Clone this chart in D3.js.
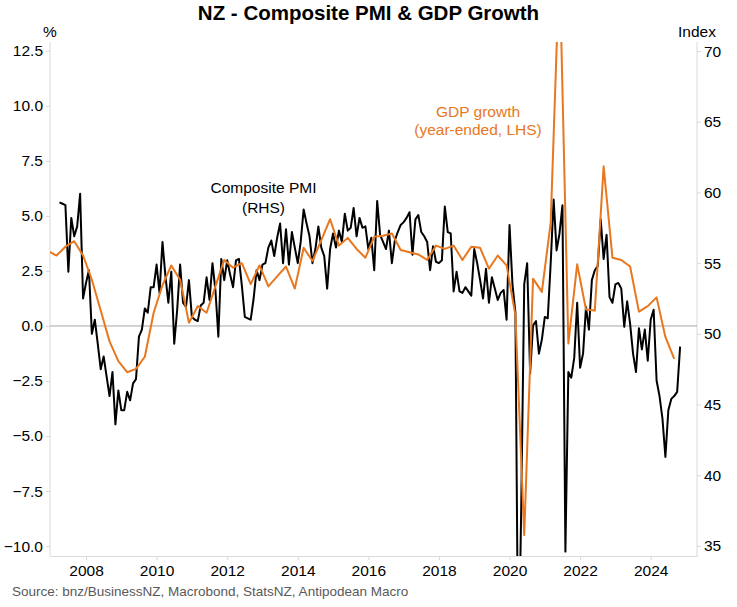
<!DOCTYPE html>
<html><head><meta charset="utf-8">
<script src="https://cdn.jsdelivr.net/npm/d3@7"></script>
<style>
body{margin:0;background:#fff;}
svg{display:block;font-family:"Liberation Sans",Arial,sans-serif;}
</style>
</head><body>
<svg id="chart" width="737" height="607"></svg>
<script>
// ---------------- DATA ----------------
const yearTicks = [2008, 2010, 2012, 2014, 2016, 2018, 2020, 2022, 2024];
const leftTicks = [-10, -7.5, -5, -2.5, 0, 2.5, 5, 7.5, 10, 12.5];
const rightTicks = [35, 40, 45, 50, 55, 60, 65, 70];

// Composite PMI (RHS), monthly, first value = Apr 2007
const pmiStartYear = 2007, pmiStartMonth = 4;
const pmiValues = [
  59.3, 59.2, 59.1, 54.4, 58.2, 56.9, 57.6, 59.9, 52.5,                   // 2007 Apr-Dec
  53.6, 54.5, 50.0, 51.0, 49.3, 47.5, 48.4, 47.0, 45.6, 47.3, 43.6, 46.0, // 2008
  44.6, 44.6, 45.9, 45.3, 46.5, 46.8, 49.8, 50.3, 51.8, 51.5, 53.3, 53.3, // 2009
  54.9, 52.9, 56.5, 54.1, 52.2, 54.4, 49.3, 51.7, 54.9, 52.2, 51.9, 53.8, // 2010
  51.2, 51.0, 50.9, 52.0, 52.2, 54.0, 52.4, 55.0, 53.1, 49.8, 55.3, 53.8, // 2011
  55.2, 54.2, 53.3, 55.2, 55.3, 53.4, 51.2, 51.1, 51.0, 52.5, 54.5, 53.8, // 2012
  54.9, 55.0, 56.1, 56.6, 55.5, 56.8, 57.8, 55.0, 57.4, 54.9, 57.2, 56.1, // 2013
  55.0, 56.5, 58.8, 57.8, 56.9, 55.0, 56.0, 57.6, 56.1, 55.5, 53.2, 56.0, // 2014
  57.1, 56.1, 57.3, 56.5, 58.5, 57.3, 57.5, 58.9, 56.9, 58.2, 57.5, 57.6, // 2015
  56.0, 56.8, 54.5, 59.4, 57.0, 56.5, 56.0, 57.3, 55.0, 56.6, 57.2, 57.7, // 2016
  57.9, 58.2, 58.6, 55.6, 58.1, 58.4, 57.2, 56.9, 56.5, 54.5, 56.2, 55.1, // 2017
  55.0, 55.2, 59.0, 57.2, 57.1, 53.0, 54.4, 53.0, 52.9, 53.3, 53.0, 52.7, // 2018
  56.0, 55.0, 53.8, 52.5, 54.6, 52.2, 54.0, 53.2, 52.4, 52.9, 53.1, 51.0, // 2019
  57.7, 53.5, 51.5, 25.0, 38.0, 53.5, 55.0, 47.2, 50.6, 50.9, 48.6, 49.6, // 2020
  51.2, 51.1, 55.0, 59.5, 55.9, 57.1, 59.1, 34.6, 47.3, 46.9, 48.3, 52.2, // 2021
  47.6, 48.6, 51.9, 50.3, 53.8, 54.5, 54.8, 58.1, 55.3, 57.0, 52.6, 52.2, // 2022
  53.5, 53.6, 53.2, 50.5, 52.3, 50.7, 48.6, 47.3, 50.4, 48.9, 50.3, 48.1, // 2023
  51.0, 51.7, 46.7, 45.6, 44.0, 41.3, 44.6, 45.4, 45.6, 45.9, 49.1        // 2024 Jan-Nov
];

// GDP growth, year-ended % (LHS), quarterly, first value = Q4 2006
const gdpStartYear = 2006, gdpStartQuarter = 4;
const gdpValues = [
  3.4,                      // 2006 Q4
  3.2, 3.6, 3.85, 3.2,      // 2007
  2.1, 0.7, -0.7, -1.6,     // 2008
  -2.1, -1.95, -1.4, 0.6,   // 2009
  1.85, 2.75, 2.1, 0.15,    // 2010
  0.9, 0.6, 1.8, 3.0,       // 2011
  2.65, 2.85, 1.9, 2.75,    // 2012
  1.8, 2.25, 2.7, 1.7,      // 2013
  3.55, 2.95, 3.9, 4.85,    // 2014
  3.65, 4.0, 3.5, 3.1,      // 2015
  4.05, 4.1, 4.2, 3.45,     // 2016
  3.35, 3.25, 3.0, 3.65,    // 2017
  3.5, 3.65, 3.0, 3.6,      // 2018
  3.55, 2.6, 3.2, 2.75,     // 2019
  0.5, -9.5, 2.15, 1.55,    // 2020
  4.7, 16.5, -0.8, 2.8,     // 2021
  0.75, 0.7, 7.25, 3.1,     // 2022
  3.0, 2.7, 0.65, 0.9,      // 2023
  1.3, -0.5, -1.5           // 2024 Q1-Q3
];

// ---------------- CHART ----------------
const svg = d3.select("#chart");
const plot = {left: 50, right: 697, top: 42, bottom: 556};

const x = d3.scaleLinear().domain([2006.98, 2025.312]).range([plot.left, plot.right]);
const yL = d3.scaleLinear().domain([-10.45, 12.9]).range([plot.bottom, plot.top]);
const yR = d3.scaleLinear().domain([34.29, 70.64]).range([plot.bottom, plot.top]);

const pmi = pmiValues.map((v, i) => ({t: pmiStartYear + (pmiStartMonth - 1 + i) / 12, v}));
const gdp = gdpValues.map((v, i) => {
  const q = gdpStartQuarter - 1 + i;
  const yr = gdpStartYear + Math.floor(q / 4);
  const qq = q % 4;
  return {t: yr + (3 * qq + 2) / 12, v};
});

svg.append("defs").append("clipPath").attr("id", "clip")
  .append("rect").attr("x", plot.left).attr("y", plot.top)
  .attr("width", plot.right - plot.left).attr("height", plot.bottom - plot.top);

const axisColor = "#d9d9d9";
const fontSize = "15.5px";

const gx = svg.append("g").attr("transform", `translate(0,${plot.bottom})`)
  .call(d3.axisBottom(x).tickValues(yearTicks).tickFormat(d3.format("d")).tickSize(4).tickSizeOuter(0).tickPadding(5));
const gl = svg.append("g").attr("transform", `translate(${plot.left},0)`)
  .call(d3.axisLeft(yL).tickValues(leftTicks).tickFormat(d3.format(".1f")).tickSize(4).tickSizeOuter(0).tickPadding(3));
const gr = svg.append("g").attr("transform", `translate(${plot.right},0)`)
  .call(d3.axisRight(yR).tickValues(rightTicks).tickFormat(d3.format("d")).tickSize(4).tickSizeOuter(0).tickPadding(3));

[gx, gl, gr].forEach(g => {
  g.select(".domain").attr("stroke", axisColor);
  g.selectAll(".tick line").attr("stroke", axisColor);
  g.selectAll(".tick text").attr("fill", "#000").style("font-size", fontSize);
});
gl.select(".domain").attr("d", `M0,${plot.top}V${plot.bottom}`);
gr.select(".domain").attr("d", `M0,${plot.top}V${plot.bottom}`);

svg.append("line")
  .attr("x1", plot.left).attr("x2", plot.right)
  .attr("y1", yL(0)).attr("y2", yL(0))
  .attr("stroke", "#a6a6a6").attr("stroke-width", 1);

const lines = svg.append("g").attr("clip-path", "url(#clip)");
lines.append("path").datum(pmi)
  .attr("fill", "none").attr("stroke", "#000").attr("stroke-width", 2)
  .attr("stroke-linejoin", "round")
  .attr("d", d3.line().x(d => x(d.t)).y(d => yR(d.v)));
const orange = "#E8771E";
lines.append("path").datum(gdp)
  .attr("fill", "none").attr("stroke", orange).attr("stroke-width", 2)
  .attr("stroke-linejoin", "round")
  .attr("d", d3.line().x(d => x(d.t)).y(d => yL(d.v)));

svg.append("text").attr("x", 368.5).attr("y", 20).attr("text-anchor", "middle")
  .style("font-size", "20.5px").style("font-weight", "bold").attr("fill", "#000")
  .text("NZ - Composite PMI & GDP Growth");
svg.append("text").attr("x", 50).attr("y", 37).attr("text-anchor", "middle")
  .style("font-size", fontSize).text("%");
svg.append("text").attr("x", 678).attr("y", 37).attr("text-anchor", "start")
  .style("font-size", fontSize).text("Index");

svg.append("text").attr("x", 263.5).attr("y", 193).attr("text-anchor", "middle")
  .style("font-size", fontSize).text("Composite PMI");
svg.append("text").attr("x", 263.5).attr("y", 212.5).attr("text-anchor", "middle")
  .style("font-size", fontSize).text("(RHS)");
svg.append("text").attr("x", 478).attr("y", 117).attr("text-anchor", "middle")
  .style("font-size", fontSize).attr("fill", orange).text("GDP growth");
svg.append("text").attr("x", 478).attr("y", 135).attr("text-anchor", "middle")
  .style("font-size", fontSize).attr("fill", orange).text("(year-ended, LHS)");

svg.append("text").attr("x", 12).attr("y", 596).attr("text-anchor", "start")
  .style("font-size", "13.5px").attr("fill", "#595959")
  .text("Source: bnz/BusinessNZ, Macrobond, StatsNZ, Antipodean Macro");
</script>
</body></html>
